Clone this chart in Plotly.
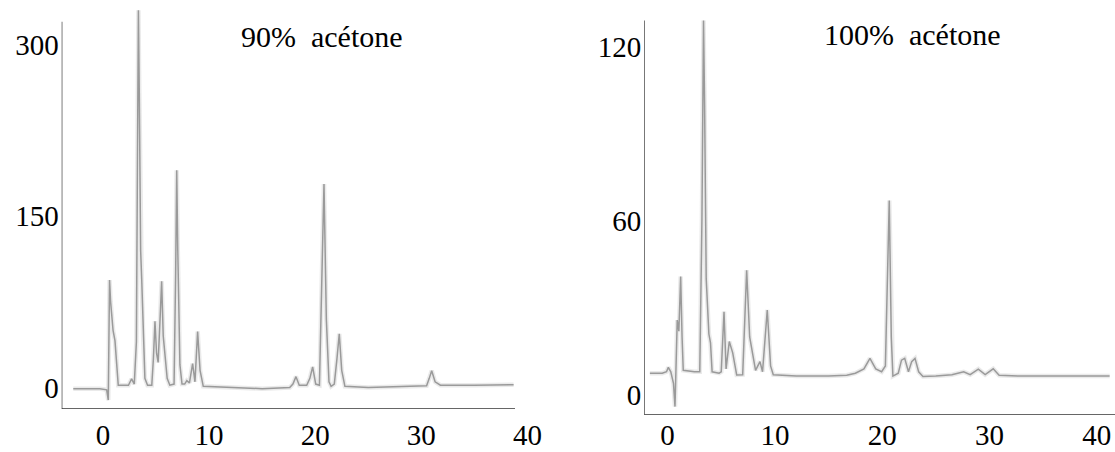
import plotly.graph_objects as go

# ---- data (retention time in min, detector response) ----
time_90 = [-2.8, -0.3, 0.35, 0.5, 0.58, 0.62, 0.72, 0.82, 0.95, 1.13, 1.3, 1.44, 2.4, 2.7, 2.95,
           3.15, 3.25, 3.3, 3.34, 3.42, 3.55, 3.65, 3.8, 3.95, 4.2, 4.6, 4.75, 4.9, 5.05, 5.2,
           5.38, 5.53, 5.68, 5.84, 6.05, 6.3, 6.7, 6.85, 6.95, 7.05, 7.25, 7.45, 7.7, 7.9, 8.15,
           8.45, 8.67, 8.92, 9.15, 9.45, 12, 15, 17.6, 17.9, 18.19, 18.5, 19.2, 19.5, 19.76, 20.05,
           20.4, 20.6, 20.83, 21.05, 21.3, 21.5, 21.8, 22.05, 22.27, 22.5, 22.8, 25, 28, 30.5,
           30.75, 30.98, 31.3, 31.8, 35, 38.7]
signal_90 = [-1, -1, -2, -11, 60, 94, 75, 63, 50, 41, 20, 2, 2, 7.5, 3,
             40, 200, 260, 330, 260, 120, 95, 40, 8, 2, 2, 25, 58, 30, 22,
             60, 93, 45, 27, 8, 2, 3, 100, 190, 120, 20, 3, 3, 6, 4,
             21, 5, 49, 15, 1, 0, -1, 0, 3, 9.5, 2, 2, 8, 18, 3,
             2, 80, 178, 60, 5, 1, 3, 25, 47, 15, 1, 0, 1, 1.5,
             8, 14.7, 5, 2, 2, 2.5]

time_100 = [-1.65, -0.5, -0.1, 0.07, 0.3, 0.55, 0.69, 0.78, 0.9, 1.05, 1.22, 1.35, 1.46, 2.5,
            3.0, 3.2, 3.35, 3.45, 3.6, 3.85, 4.0, 4.15, 4.8, 5.0, 5.26, 5.45, 5.75, 6.07, 6.44,
            7.0, 7.37, 7.65, 7.93, 8.2, 8.61, 8.85, 9.29, 9.6, 9.85, 12, 15, 16.7, 17.5, 18.3,
            18.86, 19.4, 19.95, 20.3, 20.66, 20.85, 21.0, 21.5, 21.8, 22.1, 22.45, 22.75, 23.06,
            23.4, 23.8, 25, 26.5, 27.6, 28.2, 28.96, 29.6, 30.35, 30.9, 33, 36, 41.2]
signal_100 = [7.5, 7.5, 8, 9.5, 8, 4, -4, 10, 25.8, 22, 40.8, 20, 8.5, 8,
              8, 60, 129, 100, 40, 21, 18, 8, 7.5, 8, 28.7, 9, 18.4, 14.5, 6.9,
              7, 43, 20, 13.8, 8.5, 11.5, 8, 29.3, 10, 7, 6.5, 6.5, 6.8, 7.5, 9,
              12.6, 9, 8, 10, 67, 20, 6.5, 7.5, 12, 12.6, 8, 11.5, 12.6,
              8, 6.4, 6.5, 7, 8, 7, 8.9, 7, 9, 6.8, 6.5, 6.5, 6.5]

x_ticks = [0, 10, 20, 30, 40]
y_ticks_90 = [0, 150, 300]
y_ticks_100 = [0, 60, 120]
titles = ["90%\u00a0\u00a0acétone", "100%\u00a0\u00a0acétone"]

W, H = 1115, 452
FONT = "'Times New Roman', 'Liberation Serif', 'DejaVu Serif', serif"

fig = go.Figure()
for xs, ys, xa, ya in [(time_90, signal_90, "x", "y"), (time_100, signal_100, "x2", "y2")]:
    fig.add_trace(go.Scatter(x=xs, y=ys, mode="lines", xaxis=xa, yaxis=ya,
                             line=dict(color="rgba(170,170,170,0.25)", width=4.5),
                             hoverinfo="skip", showlegend=False))
    fig.add_trace(go.Scatter(x=xs, y=ys, mode="lines", xaxis=xa, yaxis=ya,
                             line=dict(color="#9a9a9a", width=1.5),
                             showlegend=False))

# axis geometry (pixels)
L_axis_x, L_axis_y = 61.7, 409.0
R_axis_x, R_axis_y = 644.3, 415.0
L_xr = [-3.89, 40.3]
L_yr = [-18.8, 339.0]
R_xr = [-2.17, 41.7]
R_yr = [-6.9, 136.1]
L_right_px = 103 + 10.61 * L_xr[1]

tick_font = dict(family=FONT, size=29, color="black")
common_x = dict(showgrid=False, zeroline=False, showline=False, ticks="",
                tickmode="array", tickvals=x_ticks, ticktext=[str(v) for v in x_ticks],
                tickfont=tick_font)
common_y = dict(showgrid=False, zeroline=False, showline=False, ticks="",
                tickfont=tick_font, ticklabelstandoff=2)

fig.update_layout(
    width=W, height=H, margin=dict(l=0, r=0, t=0, b=0, autoexpand=False),
    paper_bgcolor="white", plot_bgcolor="white",
    font=dict(family=FONT),
    xaxis=dict(domain=[L_axis_x / W, L_right_px / W], range=L_xr, anchor="y",
               ticklabelstandoff=6, **common_x),
    yaxis=dict(domain=[1 - L_axis_y / H, 1], range=L_yr, anchor="x",
               tickmode="array", tickvals=y_ticks_90, ticktext=[str(v) for v in y_ticks_90], **common_y),
    xaxis2=dict(domain=[R_axis_x / W, 1], range=R_xr, anchor="y2",
                ticklabelstandoff=0, **common_x),
    yaxis2=dict(domain=[1 - R_axis_y / H, 1], range=R_yr, anchor="x2",
                tickmode="array", tickvals=y_ticks_100, ticktext=[str(v) for v in y_ticks_100], **common_y),
)

axis_line = dict(color="#333333", width=1.3)
# left panel axes
fig.add_shape(type="line", xref="x", yref="y", x0=L_xr[0], x1=L_xr[0], y0=L_yr[0], y1=320, line=axis_line)
fig.add_shape(type="line", xref="x", yref="y", x0=L_xr[0], x1=38.83, y0=L_yr[0], y1=L_yr[0], line=axis_line)
# right panel axes
fig.add_shape(type="line", xref="x2", yref="y2", x0=R_xr[0], x1=R_xr[0], y0=R_yr[0], y1=129, line=axis_line)
fig.add_shape(type="line", xref="x2", yref="y2", x0=R_xr[0], x1=R_xr[1], y0=R_yr[0], y1=R_yr[0], line=axis_line)

for txt, cx, cy in [(titles[0], 322, 36), (titles[1], 912, 35)]:
    fig.add_annotation(text=txt, xref="paper", yref="paper", x=cx / W, y=1 - cy / H,
                       xanchor="center", yanchor="middle", showarrow=False,
                       font=dict(family=FONT, size=30, color="black"))

fig.write_html("out.html",
               config={"displayModeBar": False},
               post_script="document.body.style.margin='0';document.body.style.overflow='hidden';")
